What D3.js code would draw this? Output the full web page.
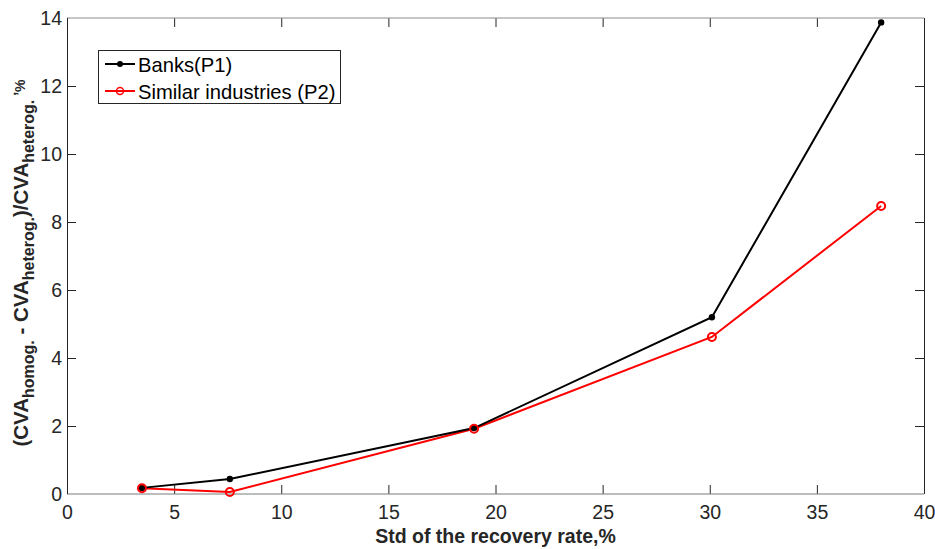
<!DOCTYPE html>
<html>
<head>
<meta charset="utf-8">
<script src="https://cdn.jsdelivr.net/npm/d3@7"></script>
<style>
  html, body { margin: 0; padding: 0; background: #fff; }
  svg { display: block; font-family: "Liberation Sans", Arial, sans-serif; }
</style>
</head>
<body>
<svg id="chart" width="935" height="549"></svg>
<script>
// Recovery-rate volatility (x) against relative CVA difference in % (y)
const stdRecovery = [3.5, 7.6, 19.0, 30.1, 38.0];
const banksP1 = [0.18, 0.44, 1.94, 5.20, 13.87];
const similarP2 = [0.17, 0.06, 1.92, 4.62, 8.47];
const xTicks = [0, 5, 10, 15, 20, 25, 30, 35, 40];
const yTicks = [0, 2, 4, 6, 8, 10, 12, 14];
const seriesNames = ["Banks(P1)", "Similar industries (P2)"];

const plot = { left: 67, right: 924, top: 18, bottom: 494 };
const axisColor = "#262626";
const tickFont = "19.5px";

const svg = d3.select("#chart");

const x = d3.scaleLinear().domain([0, 40]).range([plot.left, plot.right]);
const y = d3.scaleLinear().domain([0, 14]).range([plot.bottom, plot.top]);

const tickLen = 9;

// Bottom axis with inward ticks
const gx = svg.append("g")
  .attr("transform", `translate(0,${plot.bottom})`)
  .call(d3.axisBottom(x).tickValues(xTicks).tickSizeInner(-tickLen).tickSizeOuter(0).tickPadding(11));
// Left axis with inward ticks
const gy = svg.append("g")
  .attr("transform", `translate(${plot.left},0)`)
  .call(d3.axisLeft(y).tickValues(yTicks).tickSizeInner(-tickLen).tickSizeOuter(0).tickPadding(5));
// Top and right mirrored ticks, no labels
const gxt = svg.append("g")
  .attr("transform", `translate(0,${plot.top})`)
  .call(d3.axisTop(x).tickValues(xTicks).tickSizeInner(-tickLen).tickSizeOuter(0).tickFormat(""));
const gyr = svg.append("g")
  .attr("transform", `translate(${plot.right},0)`)
  .call(d3.axisRight(y).tickValues(yTicks).tickSizeInner(-tickLen).tickSizeOuter(0).tickFormat(""));

[gx, gy, gxt, gyr].forEach(g => {
  g.select(".domain").remove();
  g.selectAll(".tick line").attr("stroke", axisColor).attr("stroke-width", 1);
  g.selectAll(".tick text")
    .attr("fill", axisColor)
    .style("font-size", tickFont)
    .style("font-family", "'Liberation Sans', Arial, sans-serif");
});
// End ticks coincide with the frame
gx.selectAll(".tick").filter(d => d === 0 || d === 40).select("line").remove();
gxt.selectAll(".tick").filter(d => d === 0 || d === 40).select("line").remove();
gy.selectAll(".tick").filter(d => d === 0 || d === 14).select("line").remove();
gyr.selectAll(".tick").filter(d => d === 0 || d === 14).select("line").remove();

// Frame
svg.append("line").attr("x1", plot.left).attr("x2", plot.right)
  .attr("y1", plot.bottom).attr("y2", plot.bottom).attr("stroke", "#7a7a7a");
svg.append("line").attr("x1", plot.left).attr("x2", plot.right)
  .attr("y1", plot.top).attr("y2", plot.top).attr("stroke", "#8c8c8c");
svg.append("line").attr("x1", plot.left + 0.5).attr("x2", plot.left + 0.5)
  .attr("y1", plot.top).attr("y2", plot.bottom).attr("stroke", axisColor);
svg.append("line").attr("x1", plot.right + 0.5).attr("x2", plot.right + 0.5)
  .attr("y1", plot.top).attr("y2", plot.bottom).attr("stroke", axisColor);

// Series lines
const line = d3.line().x((d, i) => x(stdRecovery[i])).y(d => y(d));

svg.append("path").datum(similarP2)
  .attr("d", line).attr("fill", "none").attr("stroke", "#ff0000").attr("stroke-width", 2);
svg.append("path").datum(banksP1)
  .attr("d", line).attr("fill", "none").attr("stroke", "#000000").attr("stroke-width", 2);

svg.append("g").selectAll("circle").data(banksP1).join("circle")
  .attr("cx", (d, i) => x(stdRecovery[i])).attr("cy", d => y(d))
  .attr("r", 3.2).attr("fill", "#000");
svg.append("g").selectAll("circle").data(similarP2).join("circle")
  .attr("cx", (d, i) => x(stdRecovery[i])).attr("cy", d => y(d))
  .attr("r", 4).attr("fill", "none").attr("stroke", "#ff0000").attr("stroke-width", 2);

// Legend
const leg = svg.append("g");
leg.append("rect").attr("x", 98.5).attr("y", 50.5).attr("width", 242).attr("height", 53)
  .attr("fill", "#fff").attr("stroke", axisColor).attr("stroke-width", 1);
const legColors = ["#000000", "#ff0000"];
seriesNames.forEach((name, i) => {
  const cy = 64 + i * 27;
  leg.append("line").attr("x1", 105).attr("x2", 135).attr("y1", cy).attr("y2", cy)
    .attr("stroke", legColors[i]).attr("stroke-width", 2);
  if (i === 0) {
    leg.append("circle").attr("cx", 120).attr("cy", cy).attr("r", 3).attr("fill", "#000");
  } else {
    leg.append("circle").attr("cx", 120).attr("cy", cy).attr("r", 3.5)
      .attr("fill", "none").attr("stroke", "#ff0000").attr("stroke-width", 1.5);
  }
  leg.append("text").attr("x", 138).attr("y", cy + 7.5)
    .attr("fill", "#000").style("font-size", "20.2px").text(name);
});

// X axis title
svg.append("text").attr("x", (plot.left + plot.right) / 2).attr("y", 543)
  .attr("text-anchor", "middle").attr("fill", axisColor)
  .style("font-size", "19.5px").style("font-weight", "bold")
  .text("Std of the recovery rate,%");

// Y axis title with subscripts and a raised ",%"
const yt = svg.append("text")
  .attr("transform", `translate(28,${(plot.top + plot.bottom) / 2 + 7}) rotate(-90)`)
  .attr("text-anchor", "middle").attr("fill", axisColor)
  .style("font-size", "20.5px").style("font-weight", "bold");
const parts = [
  ["(CVA", 0, 20.5], ["homog.", 6, 16], [" - CVA", 0, 20.5], ["heterog.", 6, 16],
  [")/CVA", 0, 20.5], ["heterog.", 6, 16], [" ,", -12, 14], ["%", -3, 14]
];
let level = 0;
parts.forEach(([t, shift, size]) => {
  yt.append("tspan")
    .attr("dy", shift - level)
    .style("font-size", size + "px")
    .text(t);
  level = shift;
});
</script>
</body>
</html>
